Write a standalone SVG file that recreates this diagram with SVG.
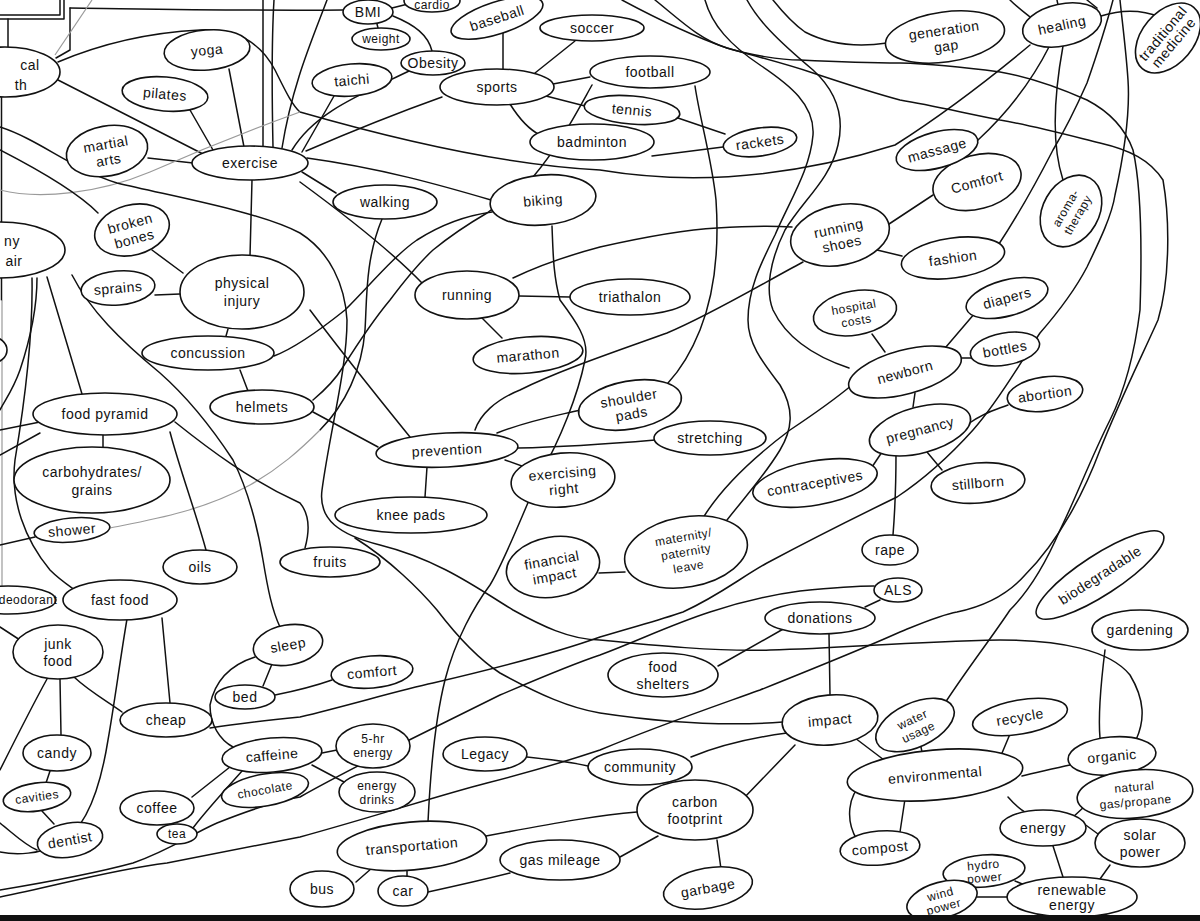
<svg xmlns="http://www.w3.org/2000/svg" width="1200" height="921" viewBox="0 0 1200 921">
<style>
.c{fill:none;stroke:#111;stroke-width:1.5;stroke-linecap:round;stroke-linejoin:round}
.g{fill:none;stroke:#9a9a9a;stroke-width:1.2}
.n ellipse{fill:#fff;stroke:#111;stroke-width:1.6}
.n text{font-family:"Liberation Sans",Arial,sans-serif;font-size:14px;fill:#111;text-anchor:middle;letter-spacing:0.5px}
.s text{font-size:12px}
</style>
<rect width="1200" height="921" fill="#fff"/>
<g id="connectors">
<path class="c" d="M0,15 H60 V0"/>
<path class="c" d="M0,19 H64 V0" stroke-width="2"/>
<path class="c" d="M8,19 V47"/>
<path class="c" d="M70,8 V50 L56,58"/>
<path class="c" d="M70,8 C150,9 250,11 343,10"/>
<path class="g" d="M55,55 L92,0"/>
<path class="c" d="M1.5,95 V300" stroke-width="3"/>
<path class="g" d="M2,300 V590"/>
<path class="c" d="M58,62 C110,40 160,32 200,30 C240,28 262,45 275,70 C285,90 292,105 300,112 C380,135 500,165 600,170 C690,185 790,178 895,145 C950,110 1000,70 1030,45"/>
<path class="c" d="M244,147 L229,69"/>
<path class="c" d="M213,150 L190,110"/>
<path class="c" d="M193,163 L148,158"/>
<path class="c" d="M203,154 L58,80"/>
<path class="c" d="M252,180 L250,256"/>
<path class="c" d="M263,147 V0"/>
<path class="c" d="M273,147 C272,100 271,50 274,0"/>
<path class="c" d="M327,0 C312,40 292,85 282,148"/>
<path class="c" d="M411,70 C360,95 315,112 292,150"/>
<path class="c" d="M334,96 L302,152"/>
<path class="c" d="M302,172 L336,193"/>
<path class="c" d="M307,158 C380,168 440,185 491,200"/>
<path class="c" d="M300,182 C345,215 390,250 422,283"/>
<path class="c" d="M306,151 C350,132 400,112 442,97"/>
<path class="g" d="M300,112 C250,130 200,150 150,172 C100,193 40,200 0,190"/>
<path class="c" d="M0,127 C40,140 70,168 117,183 C180,198 260,212 300,233 C330,252 345,285 347,320 C347,370 330,430 322,490 C318,520 340,535 380,545 C440,560 480,590 513,610 C540,625 570,640 600,640 C650,645 720,652 770,650 C850,648 900,642 1000,640 C1060,640 1110,650 1130,675 C1145,700 1145,720 1136,740"/>
<path class="c" d="M210,728 C240,723 270,720 300,717 C350,705 400,690 433,683 C480,672 550,655 600,637 C640,625 660,620 683,612 C720,595 740,578 767,563 C810,540 860,515 897,497 C930,475 955,450 973,430 C1000,400 1025,355 1040,333 C1060,310 1075,290 1087,267 C1100,240 1112,215 1115,195 C1125,150 1130,110 1128,80 C1126,50 1122,20 1120,0"/>
<path class="c" d="M0,890 C60,880 100,872 133,863 C170,850 190,835 217,823 C250,810 280,800 300,797 C330,780 360,765 383,753 C430,730 470,710 500,695 C540,678 570,665 600,655 C640,640 670,625 710,612 C740,602 770,595 800,591 C830,588 855,586 874,586"/>
<path class="c" d="M0,897 C60,885 110,870 167,863 C220,853 260,845 300,837 C380,815 440,795 487,783 C530,772 570,760 600,750 C660,725 710,708 760,690 C810,670 860,650 900,632 C920,624 940,615 957,612 C990,605 1010,592 1025,575 C1060,540 1085,490 1100,450 C1120,400 1140,360 1158,320 C1170,280 1170,220 1163,180 C1150,160 1130,150 1100,143 C1060,133 1030,125 1000,120 C960,112 930,105 900,100 C870,92 840,82 813,73 C780,62 750,55 727,48 C690,35 650,15 622,0"/>
<path class="c" d="M655,0 C680,20 700,40 727,48 C750,55 780,60 800,60 C840,62 870,63 900,63 C940,64 970,68 1000,72 C1030,77 1060,88 1087,100 C1110,112 1125,128 1133,150 C1142,190 1142,250 1140,310 C1135,350 1125,390 1110,420 C1090,460 1075,500 1060,530 C1045,565 1030,590 1010,610 C990,640 970,665 945,703"/>
<path class="c" d="M1113,0 C1105,30 1095,60 1087,83 C1075,110 1065,130 1053,150 C1035,185 1015,220 997,247"/>
<path class="c" d="M773,0 C785,15 795,25 805,32 C830,45 860,47 887,43"/>
<path class="c" d="M1010,0 C1018,8 1025,13 1030,17"/>
<path class="c" d="M1057,0 L1058,5"/>
<path class="c" d="M1087,0 L1097,8"/>
<path class="c" d="M1101,16 C1120,10 1140,9 1160,17"/>
<path class="c" d="M1050,45 C1030,85 1005,115 978,140"/>
<path class="c" d="M1063,46 C1055,90 1050,140 1063,180"/>
<path class="c" d="M886,226 L933,195"/>
<path class="c" d="M877,250 L902,256"/>
<path class="c" d="M695,86 C700,120 712,160 716,200 C720,260 712,300 700,330 C692,350 680,370 668,383"/>
<path class="c" d="M705,0 C712,25 730,45 760,65 C790,85 815,105 813,135 C810,170 790,200 775,235 C760,265 748,290 748,320 C748,345 765,365 780,385 C795,410 792,430 780,450 C765,475 745,497 727,520"/>
<path class="c" d="M747,0 C758,20 775,38 813,70 C835,90 845,115 838,145 C830,180 803,200 785,230 C770,260 765,290 773,310 C785,335 810,355 849,368"/>
<path class="c" d="M703,518 C720,490 750,460 790,430 C820,410 840,395 852,385"/>
<path class="c" d="M625,572 L599,573"/>
<path class="c" d="M870,470 L882,452"/>
<path class="c" d="M913,407 L915,393"/>
<path class="c" d="M968,424 C985,412 995,410 1008,405"/>
<path class="c" d="M927,452 L942,470"/>
<path class="c" d="M896,453 C896,480 895,510 893,535"/>
<path class="c" d="M940,354 L975,313"/>
<path class="c" d="M960,358 L972,358"/>
<path class="c" d="M885,352 L872,334"/>
<path class="c" d="M880,600 L865,607"/>
<path class="c" d="M378,447 L313,412"/>
<path class="c" d="M427,467 L425,497"/>
<path class="c" d="M497,433 C530,420 560,415 580,410"/>
<path class="c" d="M518,448 C570,447 620,443 655,440"/>
<path class="c" d="M505,460 L533,470"/>
<path class="c" d="M475,430 C480,415 495,400 520,390 C560,370 620,350 667,333 C710,315 760,285 803,262"/>
<path class="c" d="M310,310 C340,350 380,400 410,437"/>
<path class="c" d="M274,356 C295,348 320,330 345,310 C370,285 395,255 417,240 C445,222 470,215 492,212"/>
<path class="c" d="M313,400 C325,390 335,380 343,367 C360,340 375,318 390,300 C405,280 420,262 433,250 C455,232 475,220 487,213 C505,200 520,190 533,177 C560,145 578,110 592,85"/>
<path class="c" d="M552,226 C553,250 553,275 560,300 C575,320 590,340 585,360 C578,395 560,440 540,475 C520,520 505,560 490,585 C475,605 455,640 445,680 C435,720 430,780 428,822"/>
<path class="c" d="M519,296 L570,297"/>
<path class="c" d="M482,318 L502,338"/>
<path class="c" d="M513,278 C540,265 570,255 600,247 C640,238 680,230 717,228 C750,226 775,226 792,227"/>
<path class="c" d="M382,219 C365,260 367,300 365,330 C362,370 345,405 320,430"/>
<path class="g" d="M110,528 C150,520 200,512 250,485 C280,468 300,450 320,430"/>
<path class="c" d="M503,33 L503,69"/>
<path class="c" d="M575,41 L535,73"/>
<path class="c" d="M553,84 L590,77"/>
<path class="c" d="M546,96 L585,106"/>
<path class="c" d="M510,104 C520,120 530,130 540,135"/>
<path class="c" d="M675,117 L725,134"/>
<path class="c" d="M652,156 L723,147"/>
<path class="c" d="M377,24 L378,28"/>
<path class="c" d="M392,8 L408,4"/>
<path class="c" d="M393,16 C415,25 428,35 432,51"/>
<path class="c" d="M152,250 L183,273"/>
<path class="c" d="M155,295 L180,294"/>
<path class="c" d="M228,329 L226,336"/>
<path class="c" d="M240,370 L248,391"/>
<path class="c" d="M47,277 L82,394"/>
<path class="c" d="M37,278 C37,310 30,340 20,370 C13,390 5,400 0,410"/>
<path class="c" d="M72,275 C90,310 120,340 160,373 C185,395 210,425 233,460 C248,490 258,530 263,560 C268,590 272,610 280,627"/>
<path class="c" d="M32,278 C33,330 25,400 15,460 C10,500 25,540 50,570 C60,580 68,585 75,590"/>
<path class="c" d="M0,150 C35,168 75,190 98,213"/>
<path class="c" d="M103,435 L103,448"/>
<path class="c" d="M170,432 C180,470 195,510 206,550"/>
<path class="c" d="M175,422 C210,450 250,480 300,503 C310,515 310,530 305,548"/>
<path class="c" d="M0,430 L40,422"/>
<path class="c" d="M0,455 L40,433"/>
<path class="c" d="M0,545 L35,537"/>
<path class="c" d="M0,627 L20,640"/>
<path class="c" d="M162,618 C165,650 168,680 170,703"/>
<path class="c" d="M127,619 C120,660 115,700 108,740 C100,790 85,830 60,843 C40,855 15,855 0,852"/>
<path class="c" d="M0,823 C15,835 25,845 37,850"/>
<path class="c" d="M60,679 L61,735"/>
<path class="c" d="M74,677 C90,692 110,703 122,712"/>
<path class="c" d="M47,679 C30,710 15,740 0,770"/>
<path class="c" d="M50,771 L46,783"/>
<path class="c" d="M42,811 L54,824"/>
<path class="c" d="M272,664 L263,686"/>
<path class="c" d="M275,695 C300,690 315,686 332,680"/>
<path class="c" d="M255,657 C230,665 215,680 210,705 C210,725 220,740 233,747"/>
<path class="c" d="M235,763 L192,797"/>
<path class="c" d="M243,770 C225,790 205,812 193,828"/>
<path class="c" d="M322,753 L337,750"/>
<path class="c" d="M312,765 L344,782"/>
<path class="c" d="M527,757 C555,760 575,763 588,766"/>
<path class="c" d="M787,733 C750,738 720,745 691,757"/>
<path class="c" d="M795,745 L742,800"/>
<path class="c" d="M855,738 L888,763"/>
<path class="c" d="M829,634 L830,695"/>
<path class="c" d="M785,628 L718,666"/>
<path class="c" d="M355,538 C390,560 420,590 437,610 C460,640 480,660 500,673 C540,695 570,708 600,713 C660,722 720,727 783,722"/>
<path class="c" d="M637,812 C600,815 560,822 486,836"/>
<path class="c" d="M658,836 L620,857"/>
<path class="c" d="M717,840 L721,869"/>
<path class="c" d="M372,868 L356,882"/>
<path class="c" d="M407,869 L407,877"/>
<path class="c" d="M428,892 C460,885 490,878 510,873"/>
<path class="c" d="M922,752 L920,742"/>
<path class="c" d="M997,765 L1010,734"/>
<path class="c" d="M1022,776 C1040,772 1055,768 1070,765"/>
<path class="c" d="M1008,797 C1015,805 1020,810 1027,813"/>
<path class="c" d="M905,799 L900,832"/>
<path class="c" d="M857,840 C845,820 848,795 863,783 C880,770 900,760 928,752"/>
<path class="c" d="M1105,650 C1100,690 1098,715 1100,738"/>
<path class="c" d="M1110,775 L1110,780"/>
<path class="c" d="M1072,818 L1085,806"/>
<path class="c" d="M1083,823 L1098,834"/>
<path class="c" d="M1053,846 L1063,877"/>
<path class="c" d="M1110,865 L1100,879"/>
<path class="c" d="M1015,881 L1027,886"/>
<path class="c" d="M977,897 L1008,897"/>
</g>
<g id="health" class="n" transform="translate(5,72)"><ellipse rx="55" ry="25"/><text x="25" y="-2">cal</text><text x="16" y="18">th</text></g>
<g id="partial-y" class="n" transform="translate(0,250)"><ellipse rx="65" ry="28"/><text x="12" y="-4">ny</text><text x="14" y="16" font-size="12">air</text></g>
<g id="partial-small" class="n" transform="translate(-8,350)"><ellipse rx="15" ry="13"/></g>
<g id="bmi" class="n" transform="translate(368,12)"><ellipse rx="25" ry="12"/><text y="5">BMI</text></g>
<g id="cardio" class="n s" transform="translate(432,1)"><ellipse rx="28" ry="11"/><text y="8" font-size="10">cardio</text></g>
<g id="weight" class="n s" transform="translate(381,39)"><ellipse rx="29" ry="11"/><text y="4">weight</text></g>
<g id="obesity" class="n" transform="translate(433,63)"><ellipse rx="32" ry="12"/><text y="5">Obesity</text></g>
<g id="taichi" class="n" transform="translate(352,80) rotate(-5)"><ellipse rx="40" ry="16"/><text y="5">taichi</text></g>
<g id="baseball" class="n" transform="translate(497,18) rotate(-18)"><ellipse rx="48" ry="16"/><text y="5">baseball</text></g>
<g id="soccer" class="n" transform="translate(592,28)"><ellipse rx="52" ry="13"/><text y="5">soccer</text></g>
<g id="sports" class="n" transform="translate(497,87)"><ellipse rx="57" ry="18"/><text y="5">sports</text></g>
<g id="football" class="n" transform="translate(650,72)"><ellipse rx="60" ry="16"/><text y="5">football</text></g>
<g id="tennis" class="n" transform="translate(632,110) rotate(5)"><ellipse rx="48" ry="14"/><text y="5">tennis</text></g>
<g id="badminton" class="n" transform="translate(592,142)"><ellipse rx="62" ry="18"/><text y="5">badminton</text></g>
<g id="rackets" class="n" transform="translate(760,142) rotate(-8)"><ellipse rx="37" ry="14"/><text y="5">rackets</text></g>
<g id="yoga" class="n" transform="translate(207,50) rotate(-5)"><ellipse rx="43" ry="20"/><text y="5">yoga</text></g>
<g id="pilates" class="n" transform="translate(165,94) rotate(5)"><ellipse rx="43" ry="17"/><text y="5">pilates</text></g>
<g id="martial-arts" class="n" transform="translate(107,151) rotate(-10)"><ellipse rx="41" ry="25"/><text y="-2">martial</text><text y="14">arts</text></g>
<g id="exercise" class="n" transform="translate(250,163)"><ellipse rx="58" ry="17"/><text y="5">exercise</text></g>
<g id="walking" class="n" transform="translate(385,202)"><ellipse rx="52" ry="17"/><text y="5">walking</text></g>
<g id="biking" class="n" transform="translate(543,200) rotate(-5)"><ellipse rx="53" ry="25"/><text y="5">biking</text></g>
<g id="broken-bones" class="n" transform="translate(132,230) rotate(-15)"><ellipse rx="38" ry="25"/><text y="-2">broken</text><text y="14">bones</text></g>
<g id="sprains" class="n" transform="translate(118,288) rotate(-5)"><ellipse rx="37" ry="17"/><text y="5">sprains</text></g>
<g id="physical-injury" class="n" transform="translate(242,292)"><ellipse rx="62" ry="37"/><text y="-4">physical</text><text y="14">injury</text></g>
<g id="concussion" class="n" transform="translate(208,353)"><ellipse rx="66" ry="17"/><text y="5">concussion</text></g>
<g id="helmets" class="n" transform="translate(262,407)"><ellipse rx="52" ry="17"/><text y="5">helmets</text></g>
<g id="running" class="n" transform="translate(467,295)"><ellipse rx="52" ry="24"/><text y="5">running</text></g>
<g id="triathalon" class="n" transform="translate(630,297)"><ellipse rx="60" ry="18"/><text y="5">triathalon</text></g>
<g id="marathon" class="n" transform="translate(528,355) rotate(-5)"><ellipse rx="55" ry="18"/><text y="5">marathon</text></g>
<g id="running-shoes" class="n" transform="translate(840,235) rotate(-12)"><ellipse rx="50" ry="30"/><text y="-2">running</text><text y="14">shoes</text></g>
<g id="comfort-top" class="n" transform="translate(977,182) rotate(-15)"><ellipse rx="45" ry="27"/><text y="5">Comfort</text></g>
<g id="fashion" class="n" transform="translate(953,258) rotate(-8)"><ellipse rx="52" ry="20"/><text y="5">fashion</text></g>
<g id="massage" class="n" transform="translate(937,150) rotate(-15)"><ellipse rx="42" ry="18"/><text y="5">massage</text></g>
<g id="aromatherapy" class="n s" transform="translate(1071,211) rotate(-60)"><ellipse rx="38" ry="28"/><text y="-2">aroma-</text><text y="12">therapy</text></g>
<g id="healing" class="n" transform="translate(1062,25) rotate(-12)"><ellipse rx="40" ry="21"/><text y="5">healing</text></g>
<g id="traditional-medicine" class="n" transform="translate(1168,38) rotate(-50)"><ellipse rx="40" ry="26"/><text y="-2" font-size="11">traditional</text><text y="12" font-size="11">medicine</text></g>
<g id="generation-gap" class="n" transform="translate(945,37) rotate(-8)"><ellipse rx="60" ry="25"/><text y="-2">generation</text><text y="14">gap</text></g>
<g id="hospital-costs" class="n s" transform="translate(855,313) rotate(-10)"><ellipse rx="42" ry="22"/><text y="-2">hospital</text><text y="12">costs</text></g>
<g id="diapers" class="n" transform="translate(1007,298) rotate(-15)"><ellipse rx="42" ry="18"/><text y="5">diapers</text></g>
<g id="newborn" class="n" transform="translate(905,372) rotate(-15)"><ellipse rx="58" ry="22"/><text y="5">newborn</text></g>
<g id="bottles" class="n" transform="translate(1005,349) rotate(-10)"><ellipse rx="35" ry="16"/><text y="5">bottles</text></g>
<g id="pregnancy" class="n" transform="translate(920,430) rotate(-15)"><ellipse rx="52" ry="23"/><text y="5">pregnancy</text></g>
<g id="abortion" class="n" transform="translate(1045,394) rotate(-8)"><ellipse rx="38" ry="17"/><text y="5">abortion</text></g>
<g id="stillborn" class="n" transform="translate(978,483) rotate(-5)"><ellipse rx="47" ry="20"/><text y="5">stillborn</text></g>
<g id="contraceptives" class="n" transform="translate(815,483) rotate(-10)"><ellipse rx="63" ry="22"/><text y="5">contraceptives</text></g>
<g id="rape" class="n" transform="translate(890,550)"><ellipse rx="28" ry="15"/><text y="5">rape</text></g>
<g id="als" class="n" transform="translate(898,590)"><ellipse rx="24" ry="12"/><text y="5">ALS</text></g>
<g id="stretching" class="n" transform="translate(710,438)"><ellipse rx="56" ry="17"/><text y="5">stretching</text></g>
<g id="shoulder-pads" class="n" transform="translate(630,405) rotate(-10)"><ellipse rx="52" ry="24"/><text y="-2">shoulder</text><text y="14">pads</text></g>
<g id="prevention" class="n" transform="translate(447,450) rotate(-3)"><ellipse rx="71" ry="17"/><text y="5">prevention</text></g>
<g id="exercising-right" class="n" transform="translate(563,480) rotate(-5)"><ellipse rx="52" ry="27"/><text y="-2">exercising</text><text y="14">right</text></g>
<g id="knee-pads" class="n" transform="translate(411,515)"><ellipse rx="76" ry="18"/><text y="5">knee pads</text></g>
<g id="financial-impact" class="n" transform="translate(553,567) rotate(-10)"><ellipse rx="47" ry="30"/><text y="-2">financial</text><text y="14">impact</text></g>
<g id="maternity-leave" class="n s" transform="translate(686,552) rotate(-10)"><ellipse rx="62" ry="35"/><text y="-11">maternity/</text><text y="4">paternity</text><text y="19">leave</text></g>
<g id="food-pyramid" class="n" transform="translate(105,414)"><ellipse rx="72" ry="21"/><text y="5">food pyramid</text></g>
<g id="carbohydrates" class="n" transform="translate(92,480)"><ellipse rx="78" ry="33"/><text y="-3">carbohydrates/</text><text y="15">grains</text></g>
<g id="shower" class="n" transform="translate(72,530) rotate(-5)"><ellipse rx="38" ry="12"/><text y="5">shower</text></g>
<g id="oils" class="n" transform="translate(200,567)"><ellipse rx="37" ry="17"/><text y="5">oils</text></g>
<g id="fruits" class="n" transform="translate(330,562)"><ellipse rx="50" ry="15"/><text y="5">fruits</text></g>
<g id="deodorant" class="n s" transform="translate(8,600)"><ellipse rx="48" ry="14"/><text x="20" y="4">deodorant</text></g>
<g id="fast-food" class="n" transform="translate(120,600)"><ellipse rx="57" ry="20"/><text y="5">fast food</text></g>
<g id="junk-food" class="n" transform="translate(58,652)"><ellipse rx="45" ry="27"/><text y="-3">junk</text><text y="14">food</text></g>
<g id="cheap" class="n" transform="translate(166,720)"><ellipse rx="46" ry="17"/><text y="5">cheap</text></g>
<g id="candy" class="n" transform="translate(57,753)"><ellipse rx="34" ry="18"/><text y="5">candy</text></g>
<g id="cavities" class="n s" transform="translate(37,797) rotate(-8)"><ellipse rx="34" ry="14"/><text y="4">cavities</text></g>
<g id="dentist" class="n" transform="translate(70,840) rotate(-10)"><ellipse rx="33" ry="17"/><text y="5">dentist</text></g>
<g id="sleep" class="n" transform="translate(288,645) rotate(-10)"><ellipse rx="35" ry="20"/><text y="5">sleep</text></g>
<g id="bed" class="n" transform="translate(245,697)"><ellipse rx="30" ry="12"/><text y="5">bed</text></g>
<g id="comfort-bottom" class="n" transform="translate(372,672) rotate(-5)"><ellipse rx="41" ry="16"/><text y="5">comfort</text></g>
<g id="caffeine" class="n" transform="translate(272,755) rotate(-5)"><ellipse rx="50" ry="17"/><text y="5">caffeine</text></g>
<g id="coffee" class="n" transform="translate(157,808)"><ellipse rx="37" ry="17"/><text y="5">coffee</text></g>
<g id="tea" class="n s" transform="translate(177,834)"><ellipse rx="20" ry="10"/><text y="4">tea</text></g>
<g id="chocolate" class="n s" transform="translate(265,790) rotate(-10)"><ellipse rx="44" ry="16"/><text y="4">chocolate</text></g>
<g id="five-hr-energy" class="n s" transform="translate(373,746)"><ellipse rx="37" ry="22"/><text y="-3">5-hr</text><text y="11">energy</text></g>
<g id="energy-drinks" class="n s" transform="translate(377,792)"><ellipse rx="38" ry="20"/><text y="-2">energy</text><text y="12">drinks</text></g>
<g id="legacy" class="n" transform="translate(485,754)"><ellipse rx="42" ry="17"/><text y="5">Legacy</text></g>
<g id="community" class="n" transform="translate(640,767)"><ellipse rx="52" ry="18"/><text y="5">community</text></g>
<g id="transportation" class="n" transform="translate(412,846) rotate(-5)"><ellipse rx="75" ry="24"/><text y="5">transportation</text></g>
<g id="bus" class="n" transform="translate(322,889)"><ellipse rx="32" ry="18"/><text y="5">bus</text></g>
<g id="car" class="n" transform="translate(403,891)"><ellipse rx="25" ry="15"/><text y="5">car</text></g>
<g id="gas-mileage" class="n" transform="translate(560,860)"><ellipse rx="60" ry="20"/><text y="5">gas mileage</text></g>
<g id="carbon-footprint" class="n" transform="translate(695,810)"><ellipse rx="58" ry="30"/><text y="-3">carbon</text><text y="14">footprint</text></g>
<g id="garbage" class="n" transform="translate(708,888) rotate(-10)"><ellipse rx="45" ry="20"/><text y="5">garbage</text></g>
<g id="food-shelters" class="n" transform="translate(663,675)"><ellipse rx="55" ry="22"/><text y="-3">food</text><text y="14">shelters</text></g>
<g id="donations" class="n" transform="translate(820,618)"><ellipse rx="55" ry="16"/><text y="5">donations</text></g>
<g id="impact" class="n" transform="translate(830,720) rotate(-5)"><ellipse rx="48" ry="25"/><text y="5">impact</text></g>
<g id="water-usage" class="n s" transform="translate(915,725) rotate(-25)"><ellipse rx="42" ry="22"/><text y="-2">water</text><text y="12">usage</text></g>
<g id="recycle" class="n" transform="translate(1020,717) rotate(-10)"><ellipse rx="48" ry="17"/><text y="5">recycle</text></g>
<g id="gardening" class="n" transform="translate(1140,630)"><ellipse rx="48" ry="20"/><text y="5">gardening</text></g>
<g id="biodegradable" class="n" transform="translate(1100,575) rotate(-33)"><ellipse rx="75" ry="20"/><text y="5">biodegradable</text></g>
<g id="environmental" class="n" transform="translate(935,775) rotate(-5)"><ellipse rx="88" ry="25"/><text y="5">environmental</text></g>
<g id="organic" class="n" transform="translate(1112,756) rotate(-5)"><ellipse rx="44" ry="19"/><text y="5">organic</text></g>
<g id="natural-gas" class="n s" transform="translate(1135,794) rotate(-5)"><ellipse rx="58" ry="24"/><text y="-3">natural</text><text y="12">gas/propane</text></g>
<g id="energy" class="n" transform="translate(1043,828)"><ellipse rx="43" ry="18"/><text y="5">energy</text></g>
<g id="solar-power" class="n" transform="translate(1140,843)"><ellipse rx="45" ry="24"/><text y="-3">solar</text><text y="14">power</text></g>
<g id="compost" class="n" transform="translate(880,848) rotate(-5)"><ellipse rx="40" ry="17"/><text y="5">compost</text></g>
<g id="hydro-power" class="n s" transform="translate(984,871) rotate(-5)"><ellipse rx="41" ry="16"/><text y="-2">hydro</text><text y="11">power</text></g>
<g id="wind-power" class="n s" transform="translate(942,900) rotate(-15)"><ellipse rx="36" ry="18"/><text y="-2">wind</text><text y="11">power</text></g>
<g id="renewable-energy" class="n" transform="translate(1072,897)"><ellipse rx="65" ry="20"/><text y="-2">renewable</text><text y="13">energy</text></g>
<rect x="0" y="915" width="1200" height="6" fill="#111"/>
</svg>
